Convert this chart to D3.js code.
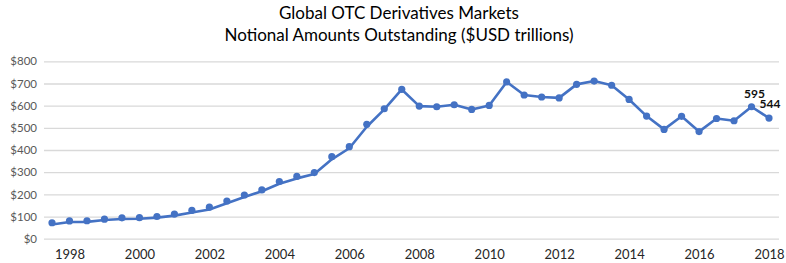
<!DOCTYPE html>
<html>
<head>
<meta charset="utf-8">
<script src="https://cdn.jsdelivr.net/npm/d3@7"></script>
<style>
  html, body { margin: 0; padding: 0; background: #fff; }
  svg { display: block; }
</style>
</head>
<body>
<svg id="chart" width="786" height="263"></svg>
<script>
// Semiannual observations, June 1998 .. Dec 2018
const periods = ["1998H1","1998H2","1999H1","1999H2","2000H1","2000H2","2001H1","2001H2","2002H1","2002H2",
  "2003H1","2003H2","2004H1","2004H2","2005H1","2005H2","2006H1","2006H2","2007H1","2007H2",
  "2008H1","2008H2","2009H1","2009H2","2010H1","2010H2","2011H1","2011H2","2012H1","2012H2",
  "2013H1","2013H2","2014H1","2014H2","2015H1","2015H2","2016H1","2016H2","2017H1","2017H2",
  "2018H1","2018H2"];
// Marker series (notional amounts outstanding, $USD trillions)
const markerValues = [72,80,81,88,94,95,100,111,128,142,170,197,220,258,281,298,370,415,516,586,
  673,598,595,604,583,601,707,648,639,635,696,711,692,628,553,493,552,483,542,532,595,544];
// Line series (reads slightly lower than markers in the early years)
const lineValues = [64,75,76,84,89,90,95,104,118,132,160,188,214,248,272,292,358,408,505,583,
  673,598,595,604,583,601,707,648,639,635,696,711,692,628,553,493,552,483,542,532,595,544];
const yTicks = [0,100,200,300,400,500,600,700,800];
const xTickLabels = ["1998","2000","2002","2004","2006","2008","2010","2012","2014","2016","2018"];
const labelled = [{i: 40, text: "595", dx: 3, dy: -9}, {i: 41, text: "544", dx: 1, dy: -10}];
const titleLines = ["Global OTC Derivatives Markets", "Notional Amounts Outstanding ($USD trillions)"];

const svg = d3.select("#chart");
const font = "Lato, 'Open Sans', sans-serif";

const x = d3.scaleLinear().domain([0, periods.length - 1]).range([52, 769]);
const y = d3.scaleLinear().domain([0, 800]).range([238.7, 61.3]);

// title
svg.append("g").selectAll("text").data(titleLines).join("text")
  .attr("x", 399).attr("y", (d, i) => 19 + i * 22)
  .attr("text-anchor", "middle")
  .attr("font-family", font).attr("font-size", 17).attr("fill", "#000")
  .text(d => d);

// y axis gridlines + labels
const yAxis = d3.axisLeft(y).tickValues(yTicks).tickSize(-(779 - 44))
  .tickFormat(d => "$" + d).tickPadding(7);
const gy = svg.append("g").attr("transform", "translate(44,0)").call(yAxis);
gy.select(".domain").remove();
gy.selectAll(".tick line").attr("stroke", "#d9d9d9").attr("stroke-width", 1.3);
gy.selectAll(".tick text").attr("font-family", font).attr("font-size", 11.5).attr("fill", "#595959");

// x axis labels (year label at the December observation)
const xAxis = d3.axisBottom(x)
  .tickValues(xTickLabels.map(yr => periods.indexOf(yr + "H2")))
  .tickFormat(i => periods[i].slice(0, 4)).tickSize(0).tickPadding(11);
const gx = svg.append("g").attr("transform", "translate(0,239)").call(xAxis);
gx.select(".domain").remove();
gx.selectAll(".tick text").attr("font-family", font).attr("font-size", 13).attr("fill", "#262626");

// line
const line = d3.line().x((d, i) => x(i)).y(d => y(d));
svg.append("path").datum(lineValues).attr("d", line)
  .attr("fill", "none").attr("stroke", "#4472C4").attr("stroke-width", 2.6)
  .attr("stroke-linejoin", "round");

// markers
svg.append("g").selectAll("circle").data(markerValues).join("circle")
  .attr("cx", (d, i) => x(i)).attr("cy", d => y(d)).attr("r", 3.6)
  .attr("fill", "#4472C4");

// data labels
svg.append("g").selectAll("text").data(labelled).join("text")
  .attr("x", d => x(d.i) + d.dx).attr("y", d => y(markerValues[d.i]) + d.dy)
  .attr("text-anchor", "middle")
  .attr("font-family", font).attr("font-size", 12).attr("font-weight", "bold").attr("fill", "#111")
  .text(d => d.text);
</script>
</body>
</html>
